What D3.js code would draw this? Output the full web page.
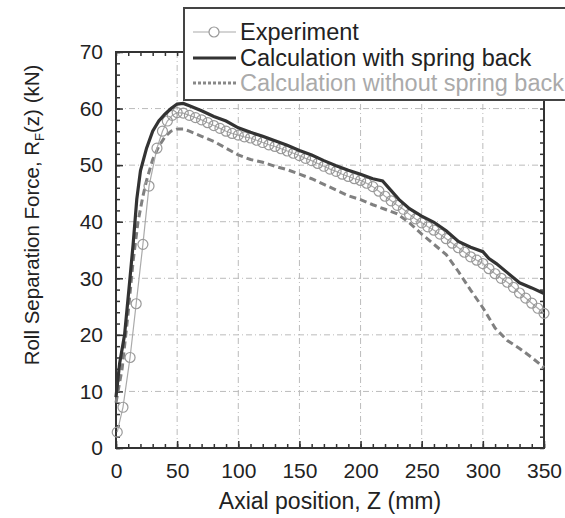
<!DOCTYPE html>
<html>
<head>
<meta charset="utf-8">
<script src="https://cdn.jsdelivr.net/npm/d3@7"></script>
<style>
body { margin:0; background:#fff; }
text { font-family: "Liberation Sans", Arial, sans-serif; fill:#222; }
</style>
</head>
<body>
<div id="chart"></div>
<script>
// Data
var x_ticks = [0, 50, 100, 150, 200, 250, 300, 350];
var y_ticks = [0, 10, 20, 30, 40, 50, 60, 70];

var exp_z = [1, 5.7, 11.5, 16.5, 22, 27, 33.5, 38, 42, 46, 50, 55, 60, 65, 70, 75, 80, 85, 90, 95,
  100, 105, 110, 115, 120, 125, 130, 135, 140, 145, 150, 155, 160, 165, 170, 175, 180, 185, 190, 195,
  200, 205, 210, 215, 220, 225, 230, 235, 240, 245, 250, 255, 260, 265, 270, 275, 280, 285, 290, 295,
  300, 305, 310, 315, 320, 325, 330, 335, 340, 345, 350];
var exp_f = [2.8, 7.2, 16, 25.5, 36, 46.3, 53, 56, 57.8, 58.8, 59.3, 59.2, 58.8, 58.4, 58, 57.5, 57, 56.5, 56, 55.6,
  55.3, 55, 54.8, 54.4, 54, 53.6, 53.3, 52.9, 52.5, 52.1, 51.7, 51.2, 50.8, 50.3, 49.8, 49.3, 48.9, 48.4, 48, 47.6,
  47.3, 46.8, 46.2, 45.4, 44.5, 43.7, 42.9, 42.2, 41.3, 40.5, 39.8, 39.1, 38.5, 37.8, 37, 36.2, 35.4, 34.6, 33.8, 33.2,
  32.6, 31.7, 30.8, 30, 29.3, 28.4, 27.4, 26.5, 25.6, 24.7, 23.8];

var sb_z = [0, 3, 7, 11, 14, 17, 20, 25, 30, 35, 40, 45, 50, 55, 60, 70, 80, 90, 100, 110, 120, 130, 140, 150,
  160, 170, 180, 190, 200, 210, 218, 225, 232, 240, 250, 260, 270, 280, 290, 300, 305, 311, 320, 330, 340, 350];
var sb_f = [9, 15, 20, 29, 36, 44, 49, 53, 56, 57.8, 59, 60, 60.8, 60.9, 60.5, 59.6, 58.6, 57.8, 56.6, 55.8, 55.1, 54.3, 53.5, 52.6,
  51.8, 50.8, 49.9, 49.1, 48.4, 47.6, 47.2, 45.5, 43.8, 42.3, 41, 39.9, 38.4, 36.5, 35.5, 34.7, 33.5, 32.6, 31, 29.2, 28.3, 27.3];

var nsb_z = [0, 5, 10, 14, 18, 22, 25, 30, 35, 40, 45, 50, 55, 60, 70, 80, 90, 100, 110, 120, 130, 140, 150,
  160, 170, 180, 190, 200, 210, 220, 230, 240, 250, 260, 270, 280, 290, 300, 310, 320, 330, 340, 350];
var nsb_f = [8, 14, 24, 33, 40, 44.5, 47.3, 51, 53.3, 55, 56, 56.4, 56.4, 56, 55.1, 54.2, 53, 51.8, 51, 50.5, 49.8, 49.2, 48.4,
  47.6, 46.6, 45.6, 44.6, 43.9, 43, 42.2, 41.4, 39.8, 37.8, 36, 34.2, 31.2, 27.9, 24.8, 21.2, 19, 17.6, 16, 14.2];

var legend_labels = ["Experiment", "Calculation with spring back", "Calculation without spring back"];

var width = 565, height = 518;
var margin = {top: 52, right: 21, bottom: 70, left: 116};
var w = width - margin.left - margin.right;
var h = height - margin.top - margin.bottom;

var svg = d3.select("#chart").append("svg")
    .attr("width", width)
    .attr("height", height);

var x = d3.scaleLinear().domain([0, 350]).range([0, w]);
var y = d3.scaleLinear().domain([0, 70]).range([h, 0]);

var g = svg.append("g")
    .attr("transform", "translate(" + margin.left + "," + margin.top + ")");

// grid lines, dash-dot
g.append("g").selectAll("line").data(x_ticks.slice(1, -1)).enter().append("line")
    .attr("x1", function(d) { return x(d); }).attr("x2", function(d) { return x(d); })
    .attr("y1", 0).attr("y2", h)
    .attr("stroke", "#bbb").attr("stroke-width", 1).attr("stroke-dasharray", "6,3,1,3");
g.append("g").selectAll("line").data(y_ticks.slice(1, -1)).enter().append("line")
    .attr("y1", function(d) { return y(d); }).attr("y2", function(d) { return y(d); })
    .attr("x1", 0).attr("x2", w)
    .attr("stroke", "#bbb").attr("stroke-width", 1).attr("stroke-dasharray", "6,3,1,3");

// axes with ticks pointing inward
var axis_col = "#333";
function style_axis(sel) {
  sel.select(".domain").remove();
  sel.selectAll("line").attr("stroke", axis_col).attr("stroke-width", 1.5);
}
var x_minor = d3.range(0, 351, 10);
var y_minor = d3.range(0, 71, 2);

g.append("g").attr("transform", "translate(0," + h + ")")
    .call(d3.axisBottom(x).tickValues(x_minor).tickSize(-4).tickFormat(""))
    .call(style_axis);
g.append("g").attr("transform", "translate(0," + h + ")")
    .call(d3.axisBottom(x).tickValues(x_ticks).tickSize(-7).tickPadding(15))
    .call(style_axis)
    .selectAll("text").attr("font-size", 21).attr("fill", "#222");
g.append("g")
    .call(d3.axisTop(x).tickValues(x_minor).tickSize(-4).tickFormat(""))
    .call(style_axis);
g.append("g")
    .call(d3.axisLeft(y).tickValues(y_minor).tickSize(-4).tickFormat(""))
    .call(style_axis);
g.append("g")
    .call(d3.axisLeft(y).tickValues(y_ticks).tickSize(-7).tickPadding(13))
    .call(style_axis)
    .selectAll("text").attr("font-size", 21).attr("fill", "#222");
g.append("g").attr("transform", "translate(" + w + ",0)")
    .call(d3.axisRight(y).tickValues(y_minor).tickSize(-4).tickFormat(""))
    .call(style_axis);

// plot frame
g.append("rect")
    .attr("width", w).attr("height", h)
    .attr("fill", "none").attr("stroke", axis_col).attr("stroke-width", 2);

// curves
var line = d3.line()
    .x(function(d) { return x(d[0]); })
    .y(function(d) { return y(d[1]); });

var exp_data = d3.zip(exp_z, exp_f);
var sb_data = d3.zip(sb_z, sb_f);
var nsb_data = d3.zip(nsb_z, nsb_f);

g.append("path").datum(nsb_data)
    .attr("d", line).attr("fill", "none")
    .attr("stroke", "#808080").attr("stroke-width", 3).attr("stroke-dasharray", "7,4");

g.append("path").datum(exp_data)
    .attr("d", line).attr("fill", "none")
    .attr("stroke", "#aaa").attr("stroke-width", 1.2);
g.append("g").selectAll("circle").data(exp_data).enter().append("circle")
    .attr("cx", function(d) { return x(d[0]); })
    .attr("cy", function(d) { return y(d[1]); })
    .attr("r", 5)
    .attr("fill", "none").attr("stroke", "#999").attr("stroke-width", 1.2);

g.append("path").datum(sb_data)
    .attr("d", line).attr("fill", "none")
    .attr("stroke", "#333").attr("stroke-width", 3.2);

// legend box (runs off the right edge as in the figure)
var lg = svg.append("g").attr("transform", "translate(184,8)");
lg.append("rect")
    .attr("width", 400).attr("height", 92)
    .attr("fill", "#fff").attr("stroke", "#444").attr("stroke-width", 2);

var row_y = [24, 50, 75];
var text_col = ["#222", "#222", "#aaa"];
lg.append("line").attr("x1", 9).attr("x2", 52).attr("y1", row_y[0]).attr("y2", row_y[0])
    .attr("stroke", "#aaa").attr("stroke-width", 1.2);
lg.append("circle").attr("cx", 30).attr("cy", row_y[0]).attr("r", 5)
    .attr("fill", "#fff").attr("stroke", "#999").attr("stroke-width", 1.2);
lg.append("line").attr("x1", 9).attr("x2", 52).attr("y1", row_y[1]).attr("y2", row_y[1])
    .attr("stroke", "#333").attr("stroke-width", 3.2);
lg.append("line").attr("x1", 9).attr("x2", 52).attr("y1", row_y[2]).attr("y2", row_y[2])
    .attr("stroke", "#888").attr("stroke-width", 3).attr("stroke-dasharray", "3,2");

lg.selectAll("text.lab").data(legend_labels).enter().append("text")
    .attr("class", "lab")
    .attr("x", 56)
    .attr("y", function(d, i) { return row_y[i]; })
    .attr("dy", "0.35em")
    .attr("font-size", 23.5)
    .style("fill", function(d, i) { return text_col[i]; })
    .text(function(d) { return d; });

// axis titles
svg.append("text")
    .attr("x", margin.left + w / 2)
    .attr("y", 509)
    .attr("text-anchor", "middle")
    .attr("font-size", 23)
    .text("Axial position, Z (mm)");

var yt = svg.append("text")
    .attr("transform", "translate(39," + (margin.top + h / 2 - 35) + ") rotate(-90)")
    .attr("text-anchor", "middle")
    .attr("font-size", 20.5);
yt.append("tspan").text("Roll Separation Force, R");
yt.append("tspan").attr("font-size", 13).attr("dy", 5).text("F");
yt.append("tspan").attr("dy", -5).text("(z) (kN)");
</script>
</body>
</html>
